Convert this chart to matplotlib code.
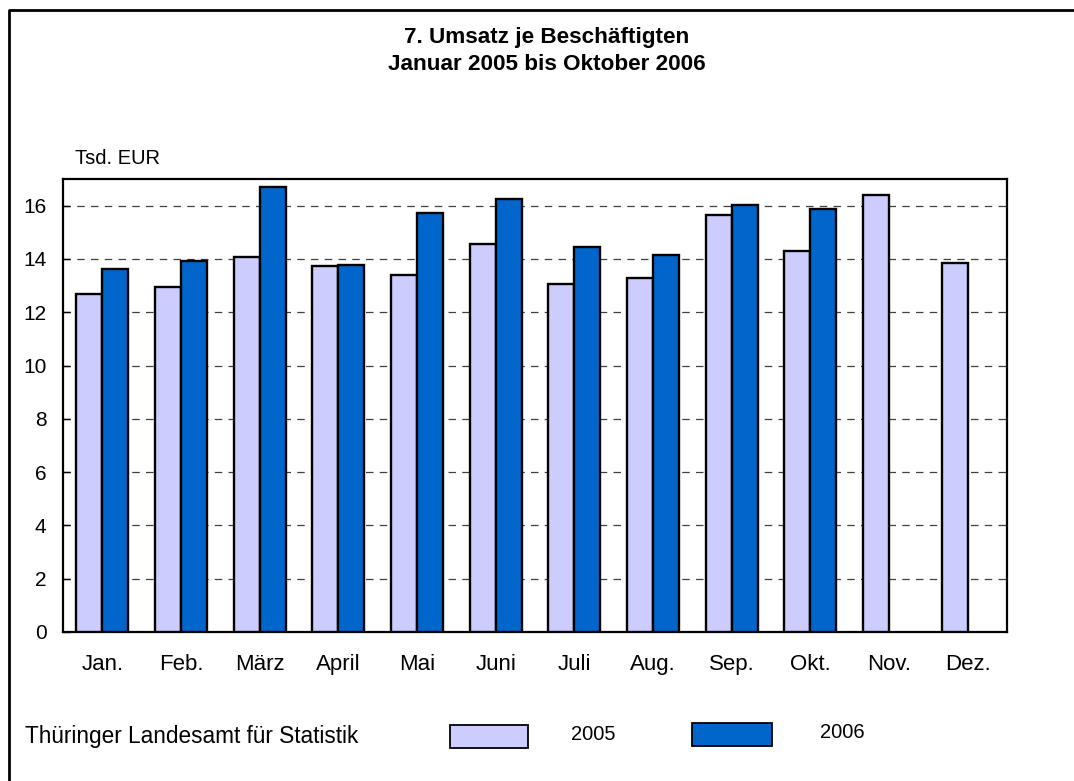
import numpy as np
import matplotlib
matplotlib.use('Agg')
import matplotlib.pyplot as plt
from matplotlib.patches import Rectangle
from matplotlib.lines import Line2D

plt.rcParams['font.family'] = ['Liberation Sans', 'DejaVu Sans']

monate = ['Jan.', 'Feb.', 'März', 'April', 'Mai', 'Juni', 'Juli', 'Aug.',
          'Sep.', 'Okt.', 'Nov.', 'Dez.']
werte_2005 = [12.70, 12.94, 14.07, 13.75, 13.41, 14.57, 13.06, 13.30,
              15.64, 14.29, 16.41, 13.85]
werte_2006 = [13.64, 13.91, 16.70, 13.79, 15.71, 16.25, 14.44, 14.16,
              16.01, 15.89]

C05 = '#CCCCFF'
C06 = '#0066CC'

fig = plt.figure(figsize=(10.74, 7.81), dpi=100)
ax = fig.add_axes([0.0587, 0.1908, 0.879, 0.580])

x = np.arange(len(monate))
w = 0.33
ax.bar(x[:len(werte_2005)] - w/2, werte_2005, w, color=C05,
       edgecolor='black', linewidth=1.7, zorder=3)
ax.bar(x[:len(werte_2006)] + w/2, werte_2006, w, color=C06,
       edgecolor='black', linewidth=1.7, zorder=3)

ax.set_xlim(-0.5, len(monate) - 0.5)
ax.set_ylim(0, 17)
ax.set_yticks(range(0, 17, 2))
ax.set_xticks(x)
ax.set_xticklabels(monate)
ax.tick_params(axis='x', length=0, pad=16, labelsize=16)
ax.tick_params(axis='y', direction='in', length=5, width=1, pad=12,
               labelsize=15)
ax.yaxis.grid(True, linestyle=(0, (6, 5)), color='#404040', linewidth=0.9,
              zorder=0)
for s in ax.spines.values():
    s.set_linewidth(1.6)

fig.text(75/1074, 1 - 158/781, 'Tsd. EUR', fontsize=14.5,
         ha='left', va='center')

# Titel
fig.text(547/1074, 1 - 38/781, '7. Umsatz je Beschäftigten', ha='center',
         va='center', fontsize=16.2, fontweight='bold')
fig.text(547/1074, 1 - 64/781, 'Januar 2005 bis Oktober 2006', ha='center',
         va='center', fontsize=16.2, fontweight='bold')

# Legende / Quelle
fig.text(25/1074, 1 - 737/781, 'Thüringer Landesamt für Statistik', ha='left',
         va='center', fontsize=16.3)
fig.patches.append(Rectangle((450/1074, 1 - 748/781), 78/1074, 23/781,
                             transform=fig.transFigure, facecolor=C05,
                             edgecolor='black', linewidth=1.3))
fig.text(571/1074, 1 - 735/781, '2005', ha='left', va='center', fontsize=14.5)
fig.patches.append(Rectangle((692/1074, 1 - 746/781), 80/1074, 23/781,
                             transform=fig.transFigure, facecolor=C06,
                             edgecolor='black', linewidth=1.3))
fig.text(820/1074, 1 - 732/781, '2006', ha='left', va='center', fontsize=14.5)

# Rahmen
fig.lines.append(Line2D([9/1074, 9/1074, 1.0], [0.0, 1 - 10/781, 1 - 10/781],
                        transform=fig.transFigure, color='black', linewidth=2))

fig.savefig('out.png', dpi=100, facecolor='white')
